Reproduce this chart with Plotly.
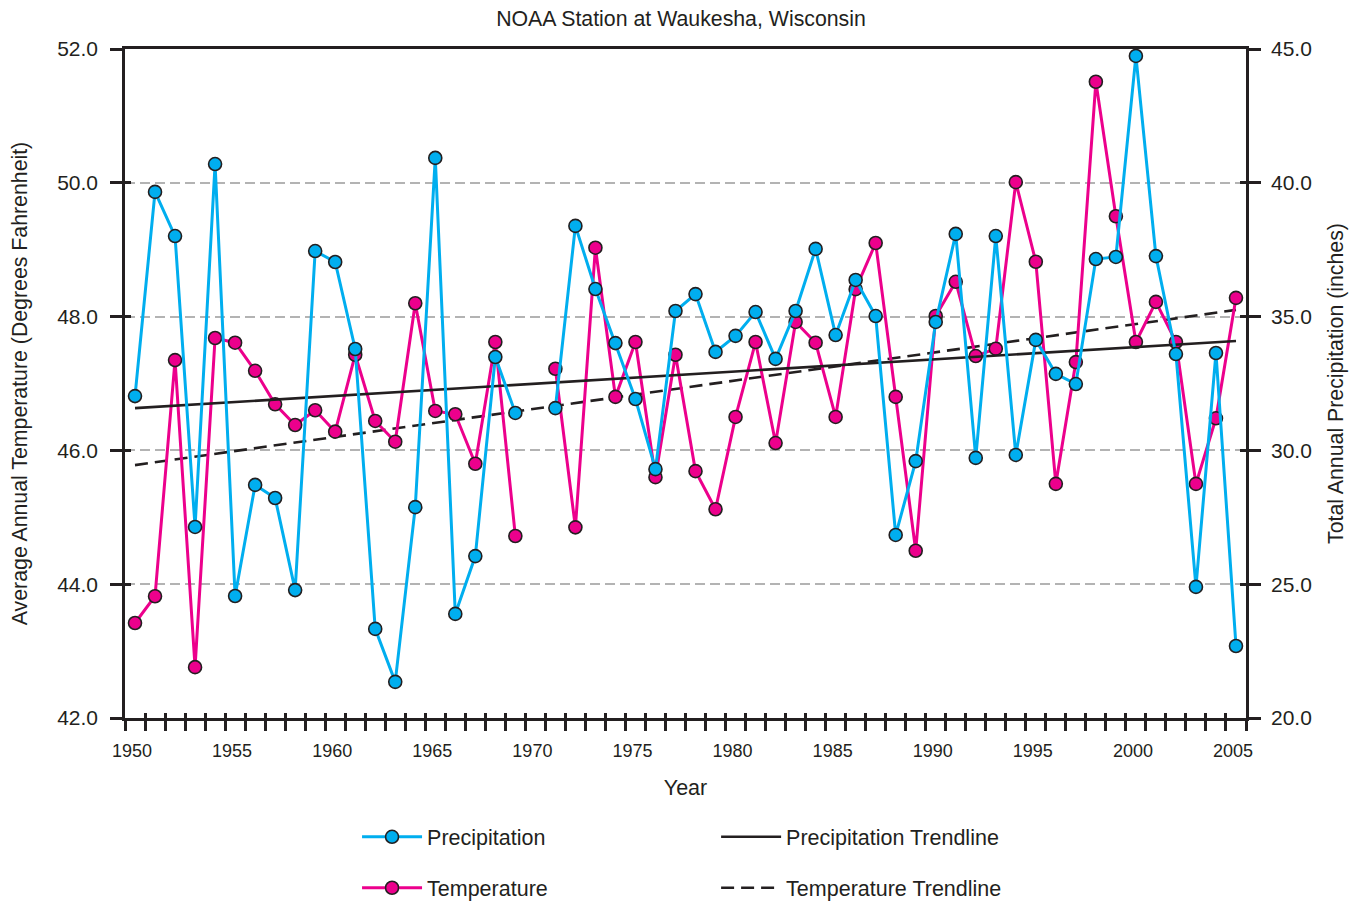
import plotly.graph_objects as go

years = list(range(1950, 2006))
precip = [32.03, 39.66, 38.01, 27.14, 40.70, 24.56, 28.71, 28.22, 24.78, 37.45,
          37.04, 33.79, 23.33, 21.35, 27.88, 40.93, 23.89, 26.05, 33.49, 31.40,
          None, 31.58, 38.39, 36.03, 34.01, 31.92, 29.30, 35.21, 35.84, 33.68,
          34.28, 35.17, 33.42, 35.21, 37.53, 34.31, 36.37, 35.02, 26.84, 29.60,
          34.80, 38.09, 29.72, 38.01, 29.83, 34.13, 32.86, 32.48, 37.15, 37.23,
          44.74, 37.26, 33.60, 24.90, 33.64, 22.69]
temp = [43.42, 43.82, 47.35, 42.76, 47.68, 47.61, 47.19, 46.69, 46.38, 46.60,
        46.28, 47.43, 46.44, 46.13, 48.20, 46.59, 46.54, 45.80, 47.62, 44.72,
        None, 47.22, 44.85, 49.03, 46.80, 47.62, 45.60, 47.43, 45.69, 45.12,
        46.50, 47.62, 46.11, 47.92, 47.61, 46.50, 48.41, 49.10, 46.80, 44.50,
        48.01, 48.52, 47.41, 47.52, 50.01, 48.82, 45.50, 47.32, 51.51, 49.50,
        47.62, 48.22, 47.62, 45.50, 46.48, 48.28]
trend_years = [1950, 2005]
precip_trend = [31.58, 34.09]
temp_trend = [45.78, 48.10]

label_years = list(range(1950, 2006, 5))
boundary_ticks = [y - 0.5 for y in range(1950, 2007)]
temp_ticks = [42, 44, 46, 48, 50, 52]
precip_ticks = [20, 25, 30, 35, 40, 45]

DARK = "#231f20"
BLUE = "#00aeef"
PINK = "#ec008c"
FONT = "Liberation Sans, Arial, sans-serif"

fig = go.Figure()

# empty traces to register overlay axes (inside tick marks)
fig.add_trace(go.Scatter(x=[], y=[], xaxis="x2", yaxis="y", showlegend=False, hoverinfo="skip"))
fig.add_trace(go.Scatter(x=[], y=[], xaxis="x", yaxis="y3", showlegend=False, hoverinfo="skip"))
fig.add_trace(go.Scatter(x=[], y=[], xaxis="x", yaxis="y4", showlegend=False, hoverinfo="skip"))

fig.add_trace(go.Scatter(
    x=trend_years, y=precip_trend, yaxis="y2", mode="lines",
    line=dict(color=DARK, width=2.6), name="Precipitation Trendline",
    legend="legend2", legendgroup="pt"))
fig.add_trace(go.Scatter(
    x=trend_years, y=temp_trend, yaxis="y", mode="lines",
    line=dict(color=DARK, width=2.6, dash="13px,7px"), name="Temperature Trendline",
    legend="legend2", legendgroup="tt"))

fig.add_trace(go.Scatter(
    x=years, y=temp, yaxis="y", mode="lines+markers", connectgaps=False,
    line=dict(color=PINK, width=3),
    marker=dict(size=13, color=PINK, line=dict(color=DARK, width=1.6)),
    name="Temperature", legend="legend", legendgroup="t", legendrank=2))
fig.add_trace(go.Scatter(
    x=years, y=precip, yaxis="y2", mode="lines+markers", connectgaps=False,
    line=dict(color=BLUE, width=3),
    marker=dict(size=13, color=BLUE, line=dict(color=DARK, width=1.6)),
    name="Precipitation", legend="legend", legendgroup="p", legendrank=1))

fig.update_layout(
    width=1356, height=896,
    margin=dict(l=117, r=118, t=41, b=186, autoexpand=False),
    paper_bgcolor="white", plot_bgcolor="white",
    font=dict(family=FONT, color=DARK, size=20),
    title=dict(text="NOAA Station at Waukesha, Wisconsin", x=673 / 1356, xref="container",
               xanchor="center", y=1 - 11 / 896, yanchor="middle",
               font=dict(size=21.3, color=DARK)),
    xaxis=dict(
        range=[1949.5, 2005.5], showline=True, linecolor=DARK, linewidth=2.6, mirror=True,
        tickmode="array", tickvals=label_years, ticktext=[str(v) for v in label_years],
        ticks="", showgrid=False, zeroline=False, tickfont=dict(size=18),
        ticklabelstandoff=15, ticklabelshift=-3, automargin=False,
        minor=dict(tickmode="array", tickvals=boundary_ticks, ticks="outside",
                   ticklen=10, tickwidth=2.6, tickcolor=DARK, showgrid=False),
        title=dict(text="Year", standoff=20, font=dict(size=21.5))),
    xaxis2=dict(
        overlaying="x", range=[1949.5, 2005.5], side="bottom", showline=False,
        tickmode="array", tickvals=boundary_ticks, ticks="inside", ticklen=5,
        tickwidth=2.6, tickcolor=DARK, showticklabels=False, showgrid=False,
        zeroline=False, automargin=False),
    yaxis=dict(
        range=[42, 52], tickmode="array", tickvals=temp_ticks, tickformat=".1f",
        ticks="outside", ticklen=12, tickwidth=2.6, tickcolor=DARK,
        showline=True, linecolor=DARK, linewidth=2.6, zeroline=False,
        showgrid=True, gridcolor="#b3b3b3", gridwidth=1.5, griddash="10px,5px",
        tickfont=dict(size=21), ticklabelstandoff=8, automargin=False,
        title=dict(text="Average Annual Temperature (Degrees Fahrenheit)", standoff=25,
                   font=dict(size=21.3))),
    yaxis2=dict(
        range=[20, 45], overlaying="y", side="right", tickmode="array",
        tickvals=precip_ticks, tickformat=".1f",
        ticks="outside", ticklen=12, tickwidth=2.6, tickcolor=DARK,
        showline=True, linecolor=DARK, linewidth=2.6, zeroline=False, showgrid=False,
        tickfont=dict(size=21), ticklabelstandoff=6, automargin=False,
        title=dict(text="Total Annual Precipitation (inches)", standoff=18,
                   font=dict(size=21.3))),
    yaxis3=dict(
        range=[42, 52], overlaying="y", side="left", tickmode="array", tickvals=temp_ticks,
        ticks="inside", ticklen=6, tickwidth=2.6, tickcolor=DARK, showticklabels=False,
        showgrid=False, showline=False, zeroline=False, automargin=False),
    yaxis4=dict(
        range=[20, 45], overlaying="y", side="right", tickmode="array", tickvals=precip_ticks,
        ticks="inside", ticklen=6, tickwidth=2.6, tickcolor=DARK, showticklabels=False,
        showgrid=False, showline=False, zeroline=False, automargin=False),
    legend=dict(
        x=0.2070, y=-0.147, xanchor="left", yanchor="top", orientation="v",
        font=dict(size=21.5, color=DARK), tracegroupgap=20, bgcolor="rgba(0,0,0,0)",
        itemwidth=60),
    legend2=dict(
        x=0.5273, y=-0.147, xanchor="left", yanchor="top", orientation="v",
        font=dict(size=21.5, color=DARK), tracegroupgap=20, bgcolor="rgba(0,0,0,0)",
        itemwidth=60),
    showlegend=True,
)

fig.write_html("out.html")
